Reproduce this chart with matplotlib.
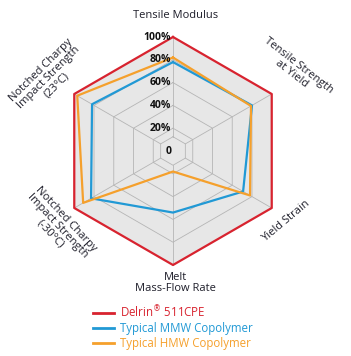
import numpy as np
from matplotlib import pyplot as plt

plt.rcParams['font.family'] = ['Open Sans', 'DejaVu Sans']

categorias = ["Tensile Modulus", "Tensile Strength\nat Yield", "Yield Strain",
              "Melt\nMass-Flow Rate", "Notched Charpy\nImpact Strength\n(-30°C)",
              "Notched Charpy\nImpact Strength\n(23°C)"]
delrin = [100, 100, 100, 100, 100, 100]
mmw = [78, 80, 71, 54, 83, 82]
hmw = [82, 79, 78, 18, 91, 97]
ticks = [0, 20, 40, 60, 80, 100]
tick_labels = ["0", "20%", "40%", "60%", "80%", "100%"]

series = [
    ("Delrin$^{\\circledR}$ 511CPE", delrin, "#d8232f"),
    ("Typical MMW Copolymer", mmw, "#2199d5"),
    ("Typical HMW Copolymer", hmw, "#f5a02c"),
]

# angulos de cada eje (arriba y en sentido horario)
angulos = np.deg2rad([90, 30, -30, -90, -150, 150])
R = 114.0
cx, cy = 173.0, 151.0
W, H = 351, 356


def punto(r, ang):
    return r * np.cos(ang), r * np.sin(ang)


def poligono(valores):
    xs = [v / 100 * np.cos(a) for v, a in zip(valores, angulos)]
    ys = [v / 100 * np.sin(a) for v, a in zip(valores, angulos)]
    return xs + xs[:1], ys + ys[:1]


fig = plt.figure(figsize=(W / 100, H / 100), dpi=100)
ax = fig.add_axes([0, 0, 1, 1])
ax.set_xlim(-cx / R, (W - cx) / R)
ax.set_ylim(-(H - cy) / R, cy / R)
ax.set_aspect("equal")
ax.axis("off")

# fondo y grilla
xs, ys = poligono([100] * 6)
ax.fill(xs, ys, color="#e7e7e7", zorder=0)
for t in [12.5] + ticks[1:-1]:
    xs, ys = poligono([t] * 6)
    ax.plot(xs, ys, color="#b5b5b5", lw=0.6, zorder=1)
for a in angulos:
    x0, y0 = punto(0.125, a)
    x1, y1 = punto(1.0, a)
    ax.plot([x0, x1], [y0, y1], color="#b5b5b5", lw=0.6, zorder=1)

for nombre, valores, color in series:
    xs, ys = poligono(valores)
    ax.plot(xs, ys, color=color, lw=1.6, label=nombre, zorder=3)

for t, lab in zip(ticks, tick_labels):
    ax.text(-0.015, t / 100, lab, ha="right", va="center", fontsize=7.5,
            fontweight="bold", color="#111111", zorder=4)

# etiquetas de los ejes
etiquetas = [
    (0.02, 1.19, 0),
    (1.07, 0.71, -38),
    (0.99, -0.62, 40),
    (0.02, -1.16, 0),
    (-1.01, -0.66, -47),
    (-1.09, 0.645, 45),
]
for texto, (x, y, rot) in zip(categorias, etiquetas):
    ax.text(x, y, texto, ha="center", va="center", rotation=rot,
            rotation_mode="anchor", fontsize=8, color="#1e1e2a",
            linespacing=0.95)

leg = ax.legend(loc="upper left", bbox_to_anchor=(93 / W, 1 - 304 / H),
                bbox_transform=fig.transFigure, frameon=False, fontsize=8.3,
                handlelength=1.85, handletextpad=0.5, labelspacing=0.18,
                borderpad=0, borderaxespad=0, labelcolor="linecolor")
for linea in leg.get_lines():
    linea.set_linewidth(2)

fig.savefig("out.png", dpi=100)
